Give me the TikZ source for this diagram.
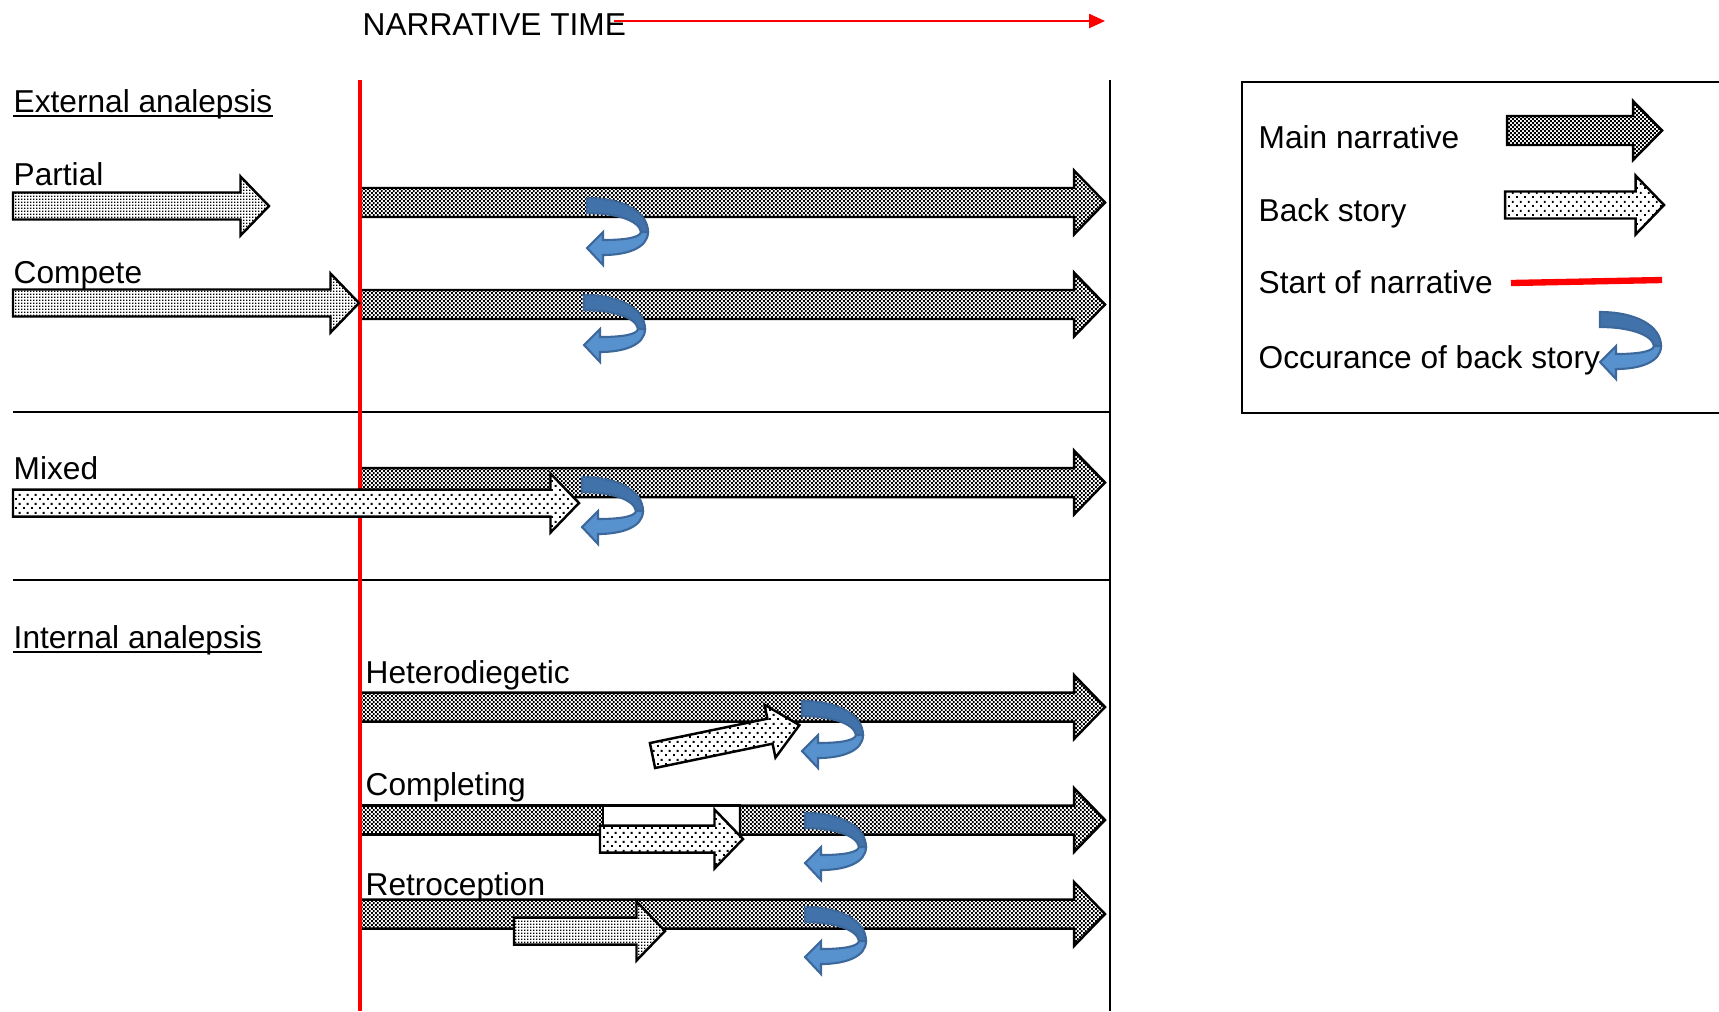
\documentclass[tikz,border=0pt]{standalone}
\usepackage{fontspec}
\setmainfont{Liberation Sans}
\usetikzlibrary{patterns,arrows.meta}

% fill patterns of the block arrows
\pgfdeclarepatternformonly{checker}{\pgfqpoint{0pt}{0pt}}{\pgfqpoint{1.1pt}{1.1pt}}{\pgfqpoint{1.1pt}{1.1pt}}{%
  \pgfpathrectangle{\pgfqpoint{0pt}{0pt}}{\pgfqpoint{0.55pt}{0.55pt}}%
  \pgfpathrectangle{\pgfqpoint{0.55pt}{0.55pt}}{\pgfqpoint{0.55pt}{0.55pt}}%
  \pgfusepath{fill}}
\pgfdeclarepatternformonly{sparsedots}{\pgfqpoint{0pt}{0pt}}{\pgfqpoint{2.2pt}{2.6pt}}{\pgfqpoint{2.2pt}{2.6pt}}{%
  \pgfpathrectangle{\pgfqpoint{0pt}{0pt}}{\pgfqpoint{0.55pt}{0.55pt}}%
  \pgfpathrectangle{\pgfqpoint{1.1pt}{1.3pt}}{\pgfqpoint{0.55pt}{0.55pt}}%
  \pgfusepath{fill}}
\pgfdeclarepatternformonly{densedots}{\pgfqpoint{0pt}{0pt}}{\pgfqpoint{0.9pt}{0.9pt}}{\pgfqpoint{0.9pt}{0.9pt}}{%
  \pgfpathrectangle{\pgfqpoint{0pt}{0pt}}{\pgfqpoint{0.5pt}{0.5pt}}%
  \pgfusepath{fill}}

\definecolor{turndark}{RGB}{66,114,170}
\definecolor{turnlight}{RGB}{88,146,206}
\definecolor{turnline}{RGB}{60,104,155}

% block arrow: [style]{x start}{x tip}{y centre}
\def\arrowbody{14.5}\def\arrowhead{32}\def\arrowtip{31}
\newcommand{\blockarrow}[4][]{%
  \draw[#1] (#2,#4-\arrowbody) -- (#3-\arrowtip,#4-\arrowbody) -- (#3-\arrowtip,#4-\arrowhead)
    -- (#3,#4) -- (#3-\arrowtip,#4+\arrowhead) -- (#3-\arrowtip,#4+\arrowbody) -- (#2,#4+\arrowbody) -- cycle;}

\tikzset{
  backturn/.pic={
    \fill[turndark, draw=turnline, line width=0.6pt] (0,0) -- (0,15) .. controls (28,15) and (52,22) .. (54,34)
      -- (61,34) .. controls (61,14) and (36,0) .. (0,0) -- cycle;
    \fill[turnlight, draw=turnline, line width=0.6pt] (61,34) .. controls (61,50) and (40,57) .. (16,57)
      -- (16,67) -- (0,50) -- (16,34) -- (16,42) .. controls (36,42) and (53,40) .. (54,34) -- cycle;
  }
}

\begin{document}
\begin{tikzpicture}[x=0.01cm, y=-0.01cm,
    rowlabel/.style={anchor=base west, inner sep=0pt, font=\fontsize{9}{11}\selectfont},
    headrule/.style={line width=0.6pt},
    mainarrow/.style={draw, line width=0.7pt, preaction={fill=white}, pattern=checker},
    backarrow/.style={draw, line width=0.7pt, preaction={fill=white}, pattern=sparsedots},
    densearrow/.style={backarrow, pattern=densedots},
    startline/.style={red, line width=1.3pt},
    timeline/.style={red, line width=0.45pt, -{Triangle[length=4.5pt, width=4pt]}}]
  \useasboundingbox (0,0) rectangle (1719,1011);

  % frame
  \draw[line width=0.5pt] (13,412) -- (1110,412);
  \draw[line width=0.5pt] (13,580) -- (1110,580);
  \draw[line width=0.6pt] (1110,80) -- (1110,1011);
  \draw[line width=0.6pt] (1725,82) -- (1242,82) -- (1242,413) -- (1725,413);

  % main narrative
  \blockarrow[mainarrow]{361}{1105}{202.5}
  \blockarrow[mainarrow]{361}{1105}{304.5}
  \blockarrow[mainarrow]{361}{1105}{482.5}
  \blockarrow[mainarrow]{361}{1105}{707}
  \draw[mainarrow] (361,805.5) rectangle (603,834.5);
  \draw[line width=0.7pt, fill=white] (603,805.5) rectangle (740,834.5);
  \blockarrow[mainarrow]{740}{1105}{820}
  \blockarrow[mainarrow]{361}{1105}{914}
  \begin{scope}
    \def\arrowhead{29.5}\def\arrowtip{29}
    \blockarrow[mainarrow]{1507}{1662}{130.5}
  \end{scope}

  % start of narrative
  \draw[startline] (360,80) -- (360,1011);
  \draw[red, line width=1.8pt] (1511,283) -- (1662,280);

  % back story
  \begin{scope}
    \def\arrowbody{13.5}\def\arrowhead{29.5}\def\arrowtip{28.5}
    \blockarrow[densearrow]{13}{269}{206}
    \blockarrow[densearrow]{13}{359}{303}
    \blockarrow[backarrow]{13}{579}{503}
    \blockarrow[backarrow]{600}{743}{839}
    \blockarrow[densearrow]{514}{665}{931}
    \blockarrow[backarrow]{1505}{1664}{205}
  \end{scope}
  \begin{scope}[shift={(652.5,755.5)}, rotate=11.7]
    \def\arrowbody{12.75}\def\arrowhead{27}\def\arrowtip{30}
    \blockarrow[backarrow]{0}{150}{0}
  \end{scope}

  % occurrences of back story
  \pic (turnpartial) at (587,198) {backturn};
  \pic (turncompete) at (584,295) {backturn};
  \pic (turnmixed) at (582,477) {backturn};
  \pic (turnhetero) at (802,701) {backturn};
  \pic (turncompleting) at (805,813) {backturn};
  \pic (turnretro) at (805,907) {backturn};
  \pic (turnlegend) at (1600,312) {backturn};

  % labels
  \node[rowlabel] (title) at (362,35) {NARRATIVE TIME};
  \coordinate (timestart) at (614,21);
  \coordinate (timeend) at (1105,21);
  \draw[timeline] (timestart) -- (timeend);

  \node[rowlabel] (external) at (13,112) {External analepsis};
  \draw[headrule] ([yshift=-1.1pt]external.base west) -- ([yshift=-1.1pt]external.base east);
  \node[rowlabel] (partial) at (13,185) {Partial};
  \node[rowlabel] (compete) at (13,283) {Compete};
  \node[rowlabel] (mixed) at (13,479) {Mixed};
  \node[rowlabel] (internal) at (13,648) {Internal analepsis};
  \draw[headrule] ([yshift=-1.2pt]internal.base west) -- ([yshift=-1.2pt]internal.base east);
  \node[rowlabel] (hetero) at (365,683) {Heterodiegetic};
  \node[rowlabel] (completing) at (365,795) {Completing};
  \node[rowlabel] (retro) at (365,895) {Retroception};

  % legend
  \node[rowlabel] (keymain) at (1258,148) {Main narrative};
  \node[rowlabel] (keyback) at (1258,221) {Back story};
  \node[rowlabel] (keystart) at (1258,293) {Start of narrative};
  \node[rowlabel] (keyturn) at (1258,368) {Occurance of back story};
\end{tikzpicture}
\end{document}
